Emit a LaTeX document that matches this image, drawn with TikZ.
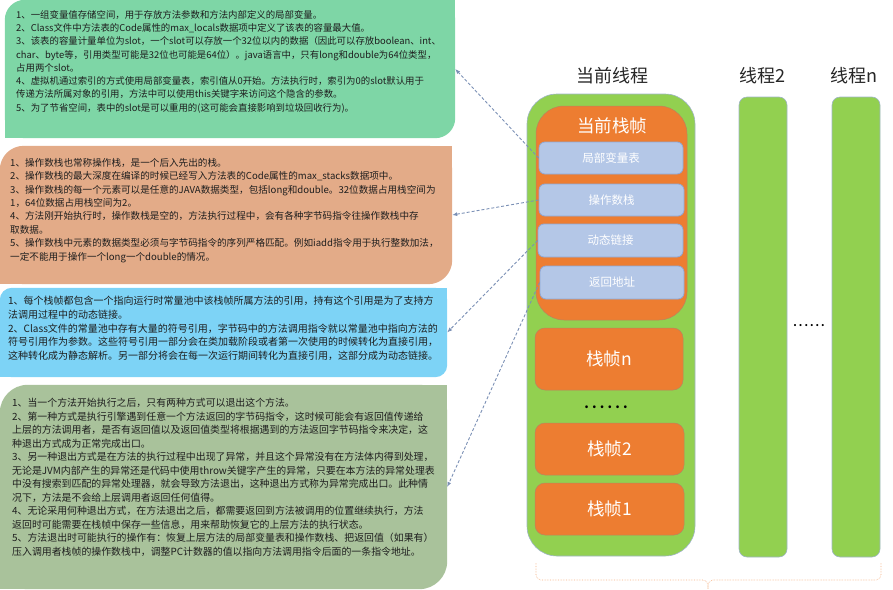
\documentclass[tikz,border=0pt]{standalone}
\usepackage{fontspec}
\setmainfont{Noto Sans CJK SC}
\usetikzlibrary{arrows.meta}
\definecolor{gA}{HTML}{7ED6A6}
\definecolor{oA}{HTML}{E3AB88}
\definecolor{bA}{HTML}{7DD3F6}
\definecolor{vA}{HTML}{A9C29B}
\definecolor{thr}{HTML}{92D050}
\definecolor{thrb}{HTML}{9FB4C7}
\definecolor{frm}{HTML}{ED7D31}
\definecolor{frmb}{HTML}{B9855F}
\definecolor{slotc}{HTML}{B4C7E7}
\definecolor{slotb}{HTML}{8EA8D8}
\definecolor{arr}{HTML}{7B90B5}
\definecolor{brc}{HTML}{F4B183}
\definecolor{txtc}{HTML}{1E1E1E}
\newcommand\infobg[3]{%
  \fill[#2, rounded corners=#3pt] (#1.south west) rectangle (#1.north east);
  \fill[#2] (#1.north east) rectangle ++(-#3,#3);
  \fill[#2] (#1.south west) rectangle ++(#3,-#3);
}
\newcommand\dotrow[1]{.\hspace{#1}.\hspace{#1}.\hspace{#1}.\hspace{#1}.\hspace{#1}.}
\begin{document}
\begin{tikzpicture}[x=1pt,y=-1pt,
  area/.style={inner sep=0, minimum width=#1},
  txt/.style={inner sep=0, align=left, anchor=north west, text=txtc},
  thread/.style={fill=thr, draw=thrb, line width=0.6pt, inner sep=0},
  frame/.style={fill=frm, draw=frmb, line width=0.5pt, inner sep=0, text=white, font=\fontsize{17.5}{20}\selectfont},
  slotbox/.style={fill=slotc, draw=slotb, line width=0.8pt, rounded corners=6pt, inner sep=0, minimum width=144pt, minimum height=32pt, text=white, font=\fontsize{11.5}{13}\selectfont},
  title/.style={inner sep=0, text=black!85, font=\fontsize{18}{20}\selectfont},
  conn/.style={draw=arr, line width=0.9pt, dash pattern=on 3pt off 2pt, -{Latex[length=5pt,width=4pt]}},
  bracestyle/.style={draw=brc, line width=0.6pt, densely dotted, rounded corners=5pt}
]
\useasboundingbox (0,0) rectangle (893,589);

% info boxes
\node[area=450pt, minimum height=138pt] (b1) at (230,69) {};
\node[area=452pt, minimum height=138pt] (b2) at (226,215) {};
\node[area=447pt, minimum height=89pt] (b3) at (223.5,332.5) {};
\node[area=447pt, minimum height=204pt] (b4) at (223.5,487) {};
\infobg{b1}{gA}{20}
\infobg{b2}{oA}{24}
\infobg{b3}{bA}{12}
\infobg{b4}{vA}{28}

\node[txt, font=\fontsize{9.4}{13.3}\selectfont] (x1) at (16,10) {%
1、一组变量值存储空间，用于存放方法参数和方法内部定义的局部变量。\\
2、Class文件中方法表的Code属性的max\_locals数据项中定义了该表的容量最大值。\\
3、该表的容量计量单位为slot，一个slot可以存放一个32位以内的数据（因此可以存放boolean、int、\\
char、byte等，引用类型可能是32位也可能是64位）。java语言中，只有long和double为64位类型，\\
占用两个slot。\\
4、虚拟机通过索引的方式使用局部变量表，索引值从0开始。方法执行时，索引为0的slot默认用于\\
传递方法所属对象的引用，方法中可以使用this关键字来访问这个隐含的参数。\\
5、为了节省空间，表中的slot是可以重用的(这可能会直接影响到垃圾回收行为)。};

\node[txt, font=\fontsize{9.6}{13.4}\selectfont] (x2) at (10,158) {%
1、操作数栈也常称操作栈，是一个后入先出的栈。\\
2、操作数栈的最大深度在编译的时候已经写入方法表的Code属性的max\_stacks数据项中。\\
3、操作数栈的每一个元素可以是任意的JAVA数据类型，包括long和double。32位数据占用栈空间为\\
1，64位数据占用栈空间为2。\\
4、方法刚开始执行时，操作数栈是空的，方法执行过程中，会有各种字节码指令往操作数栈中存\\
取数据。\\
5、操作数栈中元素的数据类型必须与字节码指令的序列严格匹配。例如iadd指令用于执行整数加法，\\
一定不能用于操作一个long一个double的情况。};

\node[txt, font=\fontsize{10}{13.7}\selectfont] (x3) at (8,296) {%
1、每个栈帧都包含一个指向运行时常量池中该栈帧所属方法的引用，持有这个引用是为了支持方\\
法调用过程中的动态链接。\\
2、Class文件的常量池中存有大量的符号引用，字节码中的方法调用指令就以常量池中指向方法的\\
符号引用作为参数。这些符号引用一部分会在类加载阶段或者第一次使用的时候转化为直接引用，\\
这种转化成为静态解析。另一部分将会在每一次运行期间转化为直接引用，这部分成为动态链接。};

\node[txt, font=\fontsize{9.9}{13.5}\selectfont] (x4) at (12,398) {%
1、当一个方法开始执行之后，只有两种方式可以退出这个方法。\\
2、第一种方式是执行引擎遇到任意一个方法返回的字节码指令，这时候可能会有返回值传递给\\
上层的方法调用者，是否有返回值以及返回值类型将根据遇到的方法返回字节码指令来决定，这\\
种退出方式成为正常完成出口。\\
3、另一种退出方式是在方法的执行过程中出现了异常，并且这个异常没有在方法体内得到处理，\\
无论是JVM内部产生的异常还是代码中使用throw关键字产生的异常，只要在本方法的异常处理表\\
中没有搜索到匹配的异常处理器，就会导致方法退出，这种退出方式称为异常完成出口。此种情\\
况下，方法是不会给上层调用者返回任何值得。\\
4、无论采用何种退出方式，在方法退出之后，都需要返回到方法被调用的位置继续执行，方法\\
返回时可能需要在栈帧中保存一些信息，用来帮助恢复它的上层方法的执行状态。\\
5、方法退出时可能执行的操作有：恢复上层方法的局部变量表和操作数栈、把返回值（如果有）\\
压入调用者栈帧的操作数栈中，调整PC计数器的值以指向方法调用指令后面的一条指令地址。};

% threads
\node[title] (tt1) at (612,76) {当前线程};
\node[title] (tt2) at (762,76) {线程2};
\node[title] (tt3) at (854,76) {线程n};
\node[thread, rounded corners=30pt, minimum width=168pt, minimum height=462pt] (th1) at (611,325) {};
\node[thread, rounded corners=8pt, minimum width=48pt, minimum height=460pt] (th2) at (763,327) {};
\node[thread, rounded corners=8pt, minimum width=48pt, minimum height=460pt] (th3) at (856,327) {};
\node[inner sep=0, font=\fontsize{10}{10}\selectfont\bfseries] (d2) at (809,326) {\dotrow{2pt}};

% current frame
\node[frame, rounded corners=28pt, minimum width=151pt, minimum height=214pt] (cf) at (611.5,213) {};
\node[inner sep=0, text=white, font=\fontsize{17.5}{20}\selectfont] (cft) at (612,126) {当前栈帧};
\node[slotbox] (lv) at (611,158) {局部变量表};
\node[slotbox, minimum width=145pt] (op) at (611.5,200) {操作数栈};
\node[slotbox, minimum width=145pt, minimum height=33pt] (dl) at (610.5,240.5) {动态链接};
\node[slotbox, minimum width=144pt, minimum height=33pt] (ra) at (612,282.5) {返回地址};

\node[frame, rounded corners=10pt, minimum width=148pt, minimum height=62pt] (fn) at (609,359) {栈帧n};
\node[inner sep=0, font=\fontsize{13}{13}\selectfont\bfseries] (d1) at (606,407) {\dotrow{3.2pt}};
\node[frame, rounded corners=10pt, minimum width=149pt, minimum height=52pt] (f2) at (609.5,449) {栈帧2};
\node[frame, rounded corners=10pt, minimum width=149pt, minimum height=52pt] (f1) at (609.5,509) {栈帧1};

% connectors
\draw[conn] (lv.west) -- (b1.east);
\draw[conn] (op.west) -- (b2.east);
\draw[conn] (dl.west) -- (b3.east);
\draw[conn] (ra.west) -- (b4.east);

% brace
\coordinate (bl) at (536,563);
\coordinate (br) at (881,563);
\coordinate (bm) at (708,580);
\coordinate (bt) at (708,589);
\draw[bracestyle] (bl) |- (bm) -- (bt);
\draw[bracestyle] (br) |- (bm) -- (bt);
\end{tikzpicture}
\end{document}
